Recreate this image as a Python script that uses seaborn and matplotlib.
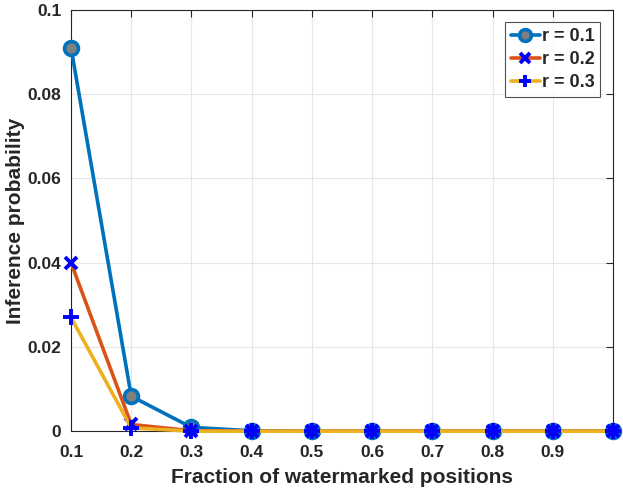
import pandas as pd
import matplotlib
matplotlib.use("Agg")
import matplotlib.pyplot as plt
import seaborn as sns

fractions = [0.1, 0.2, 0.3, 0.4, 0.5, 0.6, 0.7, 0.8, 0.9, 1.0]
prob_r01 = [0.091, 0.0083, 0.0009, 0.0001, 0.0, 0.0, 0.0, 0.0, 0.0, 0.0]
prob_r02 = [0.040, 0.0016, 0.0001, 0.0, 0.0, 0.0, 0.0, 0.0, 0.0, 0.0]
prob_r03 = [0.027, 0.0008, 0.0, 0.0, 0.0, 0.0, 0.0, 0.0, 0.0, 0.0]
labels = ["r = 0.1", "r = 0.2", "r = 0.3"]

sns.set_style("white")
plt.rcParams['font.family'] = ['Liberation Sans', 'DejaVu Sans']
plt.rcParams['font.weight'] = 'bold'
plt.rcParams['text.color'] = '#262626'
plt.rcParams['axes.labelcolor'] = '#262626'

fig = plt.figure(figsize=(6.23, 4.90), dpi=100)
ax = fig.add_axes([0.114, 0.120, 0.870, 0.860])

df1 = pd.DataFrame({'x': fractions, 'y': prob_r01})
df2 = pd.DataFrame({'x': fractions, 'y': prob_r02})
df3 = pd.DataFrame({'x': fractions, 'y': prob_r03})

sns.lineplot(data=df1, x='x', y='y', ax=ax, color='#0072BD', lw=2.6,
             marker='o', markersize=10, markerfacecolor='#808080',
             markeredgecolor='#0072BD', markeredgewidth=2.6, label=labels[0],
             clip_on=False, zorder=3)
sns.lineplot(data=df2, x='x', y='y', ax=ax, color='#D95319', lw=2.6,
             marker='x', markersize=9, markeredgecolor='#0000FF',
             markeredgewidth=2.8, label=labels[1], clip_on=False, zorder=4)
sns.lineplot(data=df3, x='x', y='y', ax=ax, color='#EDB120', lw=2.6,
             marker='+', markersize=11, markeredgecolor='#0000FF',
             markeredgewidth=2.8, label=labels[2], clip_on=False, zorder=5)

ax.set_xlim(0.1, 1.0)
ax.set_ylim(0, 0.1)
ax.set_xticks(fractions[:-1])
ax.set_xticklabels(["0.1", "0.2", "0.3", "0.4", "0.5", "0.6", "0.7", "0.8", "0.9"])
ax.set_yticks([0, 0.02, 0.04, 0.06, 0.08, 0.1])
ax.set_yticklabels(["0", "0.02", "0.04", "0.06", "0.08", "0.1"])
ax.tick_params(direction='in', length=5, width=0.8, colors='#262626',
               labelsize=12.5, top=True, right=True, pad=7)
ax.tick_params(axis='x', pad=10)
for lab in ax.get_xticklabels() + ax.get_yticklabels():
    lab.set_fontweight('bold')
ax.grid(True, color='#e6e6e6', lw=0.8)
ax.set_axisbelow(True)
for s in ax.spines.values():
    s.set_color('#262626')
    s.set_linewidth(0.8)
    s.set_zorder(2)

ax.set_xlabel("Fraction of watermarked positions", fontsize=15, fontweight='bold', labelpad=6)
ax.set_ylabel("Inference probability", fontsize=15, fontweight='bold', labelpad=2)

leg = ax.legend(loc='upper right', fontsize=13, frameon=True, fancybox=False,
                edgecolor='#262626', handlelength=1.6, handletextpad=0.15,
                borderpad=0.3, labelspacing=0.35, borderaxespad=0.7,
                markerscale=0.85)
leg.get_frame().set_linewidth(0.8)
leg.set_zorder(10)
for t in leg.get_texts():
    t.set_fontweight('bold')

fig.savefig("out.png", dpi=100)
